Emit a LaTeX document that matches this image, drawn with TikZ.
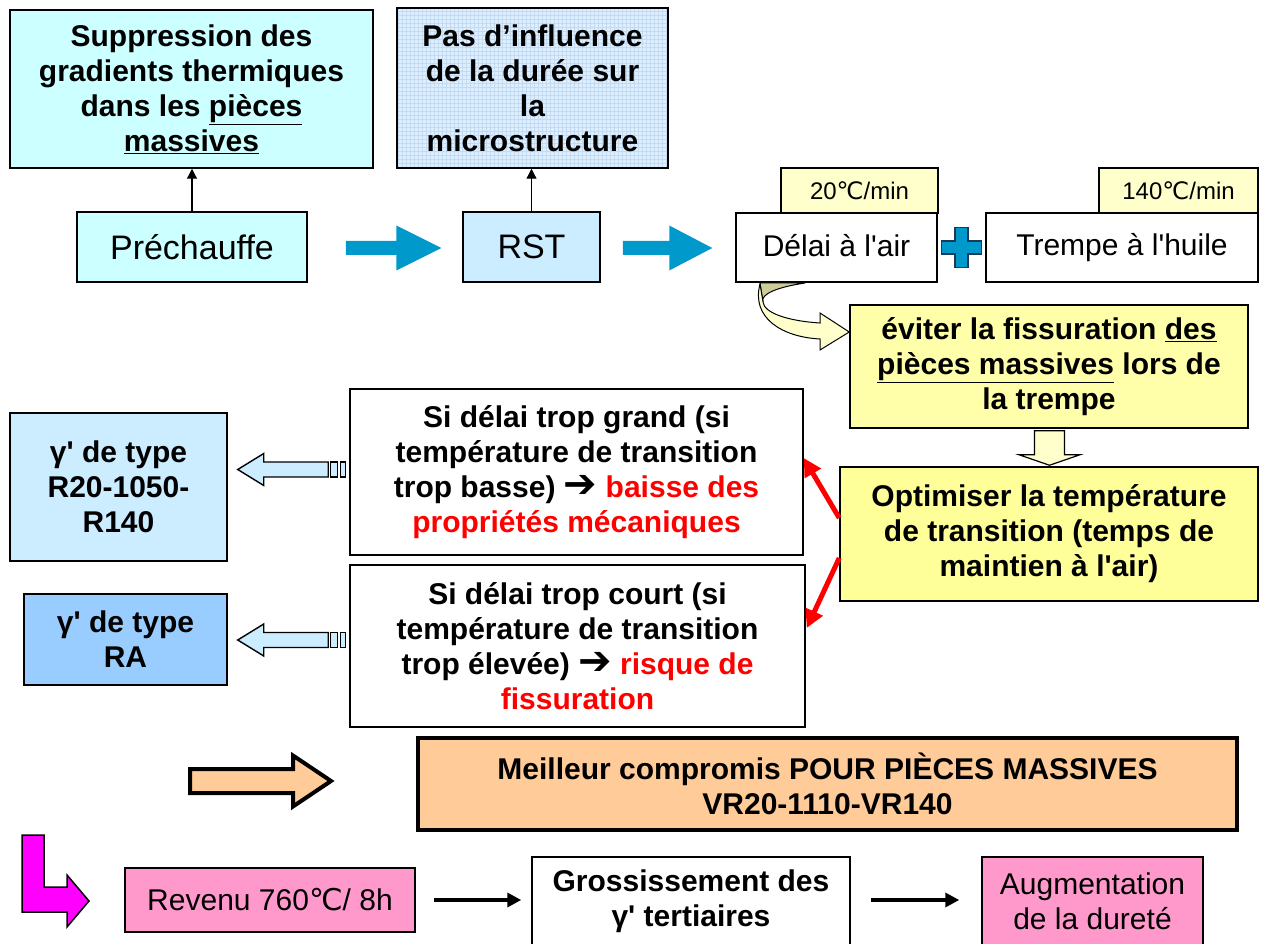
\documentclass[tikz,border=0pt]{standalone}
\usepackage{fontspec}
\setmainfont{Liberation Sans}[Ligatures=TeXOff]
\newfontfamily\dejavu{DejaVu Sans}
\usetikzlibrary{arrows.meta,calc}

\definecolor{cyanbox}{HTML}{CCFFFF}
\definecolor{blueA}{HTML}{CCECFF}
\definecolor{blueB}{HTML}{99CCFF}
\definecolor{gridbg}{HTML}{DDEEFF}
\definecolor{gridln}{HTML}{C4DAF0}
\definecolor{yellowlab}{HTML}{FFFFCC}
\definecolor{yellowbox}{HTML}{FFFF99}
\definecolor{yellowsoft}{HTML}{FFFFAA}
\definecolor{ribbondark}{HTML}{CCCC99}
\definecolor{orangebox}{HTML}{FFCC99}
\definecolor{pinkbox}{HTML}{FF99CC}
\definecolor{magentaarrow}{HTML}{FF00FF}
\definecolor{arrowblue}{HTML}{0099CC}
\definecolor{plusedge}{HTML}{1A3A55}

\newcommand\degC{{\dejavu ℃}}
\newcommand\thento{{\dejavu\bfseries\fontsize{40}{35}\selectfont ➔}}
\newcommand\redtxt[1]{{\color{red}#1}}

% horizontal block arrow: style, tail, tip, shaft half-thickness, head half-height, head length (negative = pointing left)
\newcommand\harrow[6]{%
  \path[#1] ($(#2)+(0,#4)$) -- ($(#3)+({-(#6)},#4)$) -- ($(#3)+({-(#6)},#5)$) -- (#3)
    -- ($(#3)+({-(#6)},{-(#5)})$) -- ($(#3)+({-(#6)},{-(#4)})$) -- ($(#2)+(0,{-(#4)})$) -- cycle;}

\tikzset{
  box/.style={draw=black, line width=1.5pt, inner sep=0pt, align=center},
  bold/.style={font=\fontsize{30}{35}\selectfont\bfseries},
  reg/.style={font=\fontsize{30}{35}\selectfont},
  big/.style={font=\fontsize{34}{40}\selectfont},
  small/.style={font=\fontsize{24}{28}\selectfont},
  thinarrow/.style={line width=1.2pt, -{Triangle[length=10pt,width=10pt]}},
  linkarrow/.style={line width=3.5pt, -{Triangle[length=14pt,width=14pt]}},
  redarrow/.style={draw=red, line width=5pt, -{Triangle[length=18pt,width=18pt]}},
  hollow/.style={draw=black, line width=1.4pt, line join=miter},
}

\begin{document}
\begin{tikzpicture}[x=1pt,y=-1pt]
\useasboundingbox (0,0) rectangle (1262,944);
\clip (0,0) rectangle (1262,944);
\fill[white] (0,0) rectangle (1262,944);

% --- top row ---
\node[box, bold, fill=cyanbox, minimum width=363pt, minimum height=158pt] (sup) at (191.5,89)
  {Suppression des\\gradients thermiques\\dans les \underline{pièces}\\\underline{massives}};
\node[box, bold, fill=gridbg, minimum width=271pt, minimum height=160pt,
  path picture={\draw[gridln, line width=0.4pt, step=4pt]
    (path picture bounding box.south west) grid (path picture bounding box.north east);}] (pas) at (532.5,88)
  {Pas d’influence\\de la durée sur\\la\\microstructure};

\node[box, big, fill=cyanbox, minimum width=230pt, minimum height=70pt] (pre) at (192,247) {Préchauffe};
\node[box, big, fill=blueA, minimum width=137pt, minimum height=70pt] (rst) at (531.5,247) {RST};
\node[box, reg, fill=white, minimum width=201pt, minimum height=69pt] (delai) at (836.5,247.5) {\raisebox{5pt}{Délai à l'air}};
\node[box, small, fill=yellowlab, minimum width=157pt, minimum height=45pt] (lab20) at (859.5,190.5) {20\degC/min};
\node[box, reg, fill=white, minimum width=272pt, minimum height=69pt] (trempe) at (1122,247.5) {\raisebox{5pt}{Trempe à l'huile}};
\node[box, small, fill=yellowlab, minimum width=159pt, minimum height=45pt] (lab140) at (1178.5,190.5) {140\degC/min};

\draw[thinarrow] (pre.north) -- (pre.north |- sup.south);
\draw[thinarrow] (rst.north) -- (rst.north |- pas.south);

% blue process arrows
\coordinate (b1t) at ($(pre.east)+(38,1)$);
\coordinate (b1h) at ($(rst.west)+(-21,1)$);
\harrow{fill=arrowblue}{b1t}{b1h}{7}{22.5}{45}
\coordinate (b2t) at ($(rst.east)+(22,1)$);
\coordinate (b2h) at ($(delai.west)+(-23,0.5)$);
\harrow{fill=arrowblue}{b2t}{b2h}{7}{22.5}{43}

% plus sign
\coordinate (pc) at ($(delai.east)!0.5!(trempe.west)$);
\path[draw=plusedge, fill=arrowblue, line width=1.2pt] (pc) ++(-6.5,-20) -- ++(13,0) -- ++(0,13.5) -- ++(13.5,0)
  -- ++(0,13) -- ++(-13.5,0) -- ++(0,13.5) -- ++(-13,0) -- ++(0,-13.5) -- ++(-13.5,0) -- ++(0,-13) -- ++(13.5,0) -- cycle;

% --- right column ---
\node[box, bold, fill=yellowsoft, minimum width=398pt, minimum height=123pt] (eviter) at (1049,366.5)
  {éviter la fissuration \underline{des}\\\underline{pièces massives} lors de\\la trempe};
\node[box, bold, fill=yellowbox, minimum width=418pt, minimum height=134pt] (optim) at (1049,534)
  {Optimiser la température\\de transition (temps de\\maintien à l'air)};

% curved ribbon arrow from the air delay to the goal
\path[hollow, line width=1pt, fill=ribbondark] (760,283) -- (805,283) .. controls (778,287) and (760,294) .. (763,302) -- cycle;
\path[hollow, line width=1pt, fill=yellowlab] (760,284) .. controls (751,318) and (782,337) .. (820,339)
  -- (820,350) -- (eviter.west |- 0,332) -- (820,313) -- (820,323)
  .. controls (788,321) and (764,313) .. (763,302) -- cycle;

% down arrow between the two yellow boxes
\coordinate (dt) at ($(eviter.south)+(0.5,2)$);
\coordinate (dh) at ($(optim.north)+(0.5,-1)$);
\path[hollow, line width=1.2pt, fill=yellowlab] ($(dt)+(-15,0)$) -- ($(dt)+(15,0)$) -- ($(dt)+(15,24)$) -- ($(dt)+(30.5,24)$)
  -- (dh) -- ($(dt)+(-30.5,24)$) -- ($(dt)+(-15,24)$) -- cycle;

% --- middle cases ---
\node[box, bold, fill=white, minimum width=453pt, minimum height=166pt] (grand) at (576.5,472)
  {Si délai trop grand (si\\température de transition\\trop basse) \thento{} \redtxt{baisse des}\\\redtxt{propriétés mécaniques}};
\node[box, bold, fill=white, minimum width=455pt, minimum height=162pt] (court) at (577.5,646)
  {Si délai trop court (si\\température de transition\\trop élevée) \thento{} \redtxt{risque de}\\\redtxt{fissuration}};

\node[box, bold, fill=blueA, minimum width=217pt, minimum height=148pt] (g1) at (118.5,487)
  {γ' de type\\R20-1050-\\R140};
\node[box, bold, fill=blueB, minimum width=203pt, minimum height=91pt] (g2) at (125.5,639.5)
  {γ' de type\\RA};

\draw[redarrow] ($(optim.west)+(0,-16)$) -- ($(grand.east)+(0,-14)$);
\draw[redarrow] ($(optim.west)+(0,24)$) -- ($(court.east)+(1,-18)$);

% striped hollow arrows towards the resulting structures
\coordinate (l1t) at ($(grand.west)+(-21,-2.5)$);
\coordinate (l1h) at ($(g1.east |- l1t)+(10,0)$);
\harrow{hollow, fill=blueA}{l1t}{l1h}{7.5}{16}{-26}
\draw[hollow, fill=blueA] ($(l1t)+(2,-7.5)$) rectangle ($(l1t)+(9,7.5)$);
\draw[hollow, fill=blueA] ($(l1t)+(12,-7.5)$) rectangle ($(l1t)+(17,7.5)$);

\coordinate (l2t) at ($(court.west)+(-21,-6)$);
\coordinate (l2h) at ($(g2.east |- l2t)+(10,0)$);
\harrow{hollow, fill=blueA}{l2t}{l2h}{7.5}{16}{-26}
\draw[hollow, fill=blueA] ($(l2t)+(2,-7.5)$) rectangle ($(l2t)+(9,7.5)$);
\draw[hollow, fill=blueA] ($(l2t)+(12,-7.5)$) rectangle ($(l2t)+(17,7.5)$);

% --- best compromise ---
\node[box, bold, fill=orangebox, line width=4pt, minimum width=819pt, minimum height=92pt] (best) at (827.5,784)
  {Meilleur compromis POUR PIÈCES MASSIVES\\VR20-1110-VR140};
\coordinate (ot) at (190,781);
\coordinate (oh) at ($(best.west)+(-85,-3)$);
\harrow{hollow, line width=4pt, fill=orangebox}{ot}{oh}{12}{25.5}{38}

% --- tempering row ---
\path[hollow, line width=1.5pt, fill=magentaarrow] (22,835) -- (44,835) -- (44,887) -- (67,887) -- (67,875)
  -- (89,901) -- (67,927) -- (67,912) -- (22,912) -- cycle;

\node[box, reg, fill=pinkbox, minimum width=290pt, minimum height=64pt] (rev) at (270,900) {Revenu 760\degC/ 8h};
\node[box, bold, fill=white, minimum width=318pt, minimum height=88pt] (gros) at (691,901)
  {Grossissement des\\γ' tertiaires};
\node[box, reg, fill=pinkbox, minimum width=221pt, minimum height=88pt] (aug) at (1092.5,901)
  {Augmentation\\de la dureté};

\draw[linkarrow, shorten <=18pt, shorten >=10pt] (rev.east) -- (rev.east -| gros.west);
\draw[linkarrow, shorten <=20pt, shorten >=22pt] (gros.east |- rev.east) -- (rev.east -| aug.west);
\end{tikzpicture}
\end{document}
